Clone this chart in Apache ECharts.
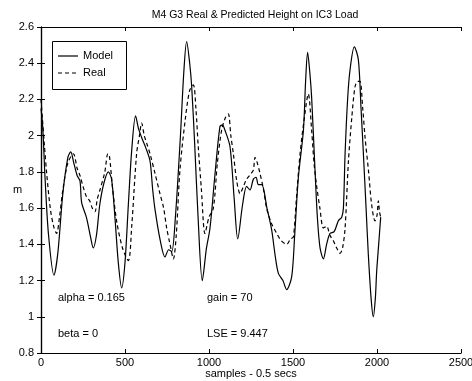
<!DOCTYPE html>
<html><head><meta charset="utf-8">
<script src="https://cdn.jsdelivr.net/npm/echarts@6/dist/echarts.min.js"></script>
<style>html,body{margin:0;padding:0;background:#fff}#c{width:472px;height:381px}</style>
</head><body><div id="c"></div>
<script>
const titleText = "M4 G3 Real & Predicted Height on IC3 Load";
const xAxisName = "samples - 0.5 secs";
const yAxisName = "m";
const xTicks = [0, 500, 1000, 1500, 2000, 2500];
const yTicks = [0.8, 1, 1.2, 1.4, 1.6, 1.8, 2, 2.2, 2.4, 2.6];
const modelX = [0,10,25,45,77,100,130,160,177,195,215,232,242,270,295,311,330,350,375,401,420,440,460,480,500,520,540,563,580,599,625,649,665,679,710,738,760,778,800,830,850,867,885,897,915,935,960,985,1006,1035,1065,1080,1095,1125,1150,1171,1200,1224,1244,1264,1280,1294,1314,1345,1373,1395,1413,1440,1462,1492,1510,1532,1562,1575,1587,1600,1611,1631,1645,1661,1681,1700,1720,1745,1770,1790,1800,1810,1825,1839,1865,1889,1905,1919,1935,1948,1965,1978,1990,1998,2010,2022];
const modelY = [2.15,2.05,1.75,1.45,1.23,1.35,1.68,1.88,1.91,1.85,1.78,1.75,1.63,1.55,1.44,1.38,1.45,1.62,1.74,1.80,1.76,1.55,1.30,1.16,1.30,1.62,1.92,2.11,2.04,1.99,1.93,1.86,1.70,1.59,1.42,1.33,1.37,1.36,1.55,2.00,2.35,2.52,2.40,2.27,1.95,1.55,1.20,1.38,1.49,1.78,2.05,2.06,2.03,1.94,1.65,1.43,1.62,1.72,1.70,1.76,1.77,1.73,1.73,1.60,1.48,1.33,1.24,1.20,1.15,1.22,1.45,1.77,2.03,2.30,2.46,2.35,2.21,1.81,1.55,1.38,1.32,1.40,1.46,1.47,1.53,1.55,1.60,1.90,2.20,2.36,2.49,2.42,2.15,1.90,1.60,1.35,1.10,1.00,1.10,1.25,1.40,1.55];
const realX = [0,8,20,34,55,75,93,110,130,160,193,215,232,250,272,290,305,321,335,351,380,398,407,425,450,485,520,540,569,586,599,615,632,649,679,708,730,748,768,788,805,827,860,885,907,922,936,955,976,1000,1026,1050,1075,1098,1115,1130,1145,1165,1185,1205,1224,1250,1264,1274,1284,1304,1325,1343,1370,1403,1430,1462,1485,1502,1520,1542,1565,1591,1611,1625,1641,1660,1681,1700,1720,1740,1760,1780,1795,1810,1830,1850,1869,1885,1899,1915,1929,1950,1968,1988,2000,2008,2015,2022];
const realY = [2.2,2.1,1.95,1.79,1.60,1.50,1.46,1.55,1.70,1.85,1.90,1.82,1.78,1.72,1.66,1.64,1.60,1.58,1.65,1.70,1.80,1.90,1.89,1.72,1.53,1.38,1.31,1.50,1.90,2.00,2.07,2.00,1.95,1.90,1.79,1.68,1.60,1.49,1.40,1.32,1.45,1.81,2.10,2.25,2.28,2.15,1.94,1.70,1.46,1.55,1.60,1.85,2.03,2.10,2.12,2.00,1.90,1.75,1.68,1.72,1.76,1.79,1.81,1.88,1.86,1.79,1.70,1.60,1.52,1.46,1.42,1.40,1.43,1.44,1.65,1.90,2.08,2.23,2.03,1.85,1.72,1.60,1.49,1.50,1.45,1.42,1.38,1.35,1.38,1.49,1.86,2.10,2.27,2.30,2.30,2.15,1.99,1.80,1.62,1.53,1.56,1.64,1.58,1.55];
const seriesNames = ["Model", "Real"];
const notes = ["alpha = 0.165", "gain = 70", "beta = 0", "LSE = 9.447"];

const FONT = "Liberation Sans";
const FS = 11;
const zip = (xs, ys) => xs.map((x, i) => [x, ys[i]]);
const chart = echarts.init(document.getElementById('c'));
const axisCommon = {
  axisLine: { show: true, lineStyle: { color: '#000', width: 1.2 } },
  axisTick: { show: true, inside: true, length: 4, lineStyle: { color: '#000' } },
  splitLine: { show: false }
};
const txt = (x, y, text, align) => ({ type: 'text', x, y,
  style: { text, fontFamily: FONT, fontSize: FS, fill: '#000', textVerticalAlign: 'middle', textAlign: align || 'left' } });
chart.setOption({
  animation: false,
  backgroundColor: '#fff',
  title: { text: titleText, left: 250, top: 5, textAlign: 'center',
    textStyle: { fontFamily: FONT, fontSize: 10.5, fontWeight: 'normal', color: '#000' } },
  grid: { left: 41, right: 11, top: 27, bottom: 28, show: false, containLabel: false, outerBoundsMode: 'none' },
  xAxis: [
    Object.assign({ type: 'value', min: 0, max: 2500, interval: 500, position: 'bottom',
      axisLabel: { fontFamily: FONT, fontSize: FS, color: '#000', margin: 4,
        formatter: v => xTicks.includes(v) ? String(v) : '' } }, axisCommon),
    Object.assign({ type: 'value', min: 0, max: 2500, interval: 500, position: 'top',
      axisLabel: { show: false } }, axisCommon)
  ],
  yAxis: [
    Object.assign({ type: 'value', min: 0.8, max: 2.6, interval: 0.2, position: 'left',
      axisLabel: { fontFamily: FONT, fontSize: FS, color: '#000', margin: 7,
        formatter: v => { const t = yTicks.find(k => Math.abs(k - v) < 1e-6); return t === undefined ? '' : String(t); } } }, axisCommon),
    Object.assign({ type: 'value', min: 0.8, max: 2.6, interval: 0.2, position: 'right',
      axisLabel: { show: false } }, axisCommon)
  ],
  series: [
    { name: seriesNames[0], type: 'line', data: zip(modelX, modelY), showSymbol: false,
      lineStyle: { color: '#000', width: 1.2 }, smooth: 0.3 },
    { name: seriesNames[1], type: 'line', data: zip(realX, realY), showSymbol: false,
      lineStyle: { color: '#000', width: 1.2, type: [4, 3] }, smooth: 0.3 }
  ],
  graphic: [
    { type: 'rect', shape: { x: 52.5, y: 41.5, width: 74, height: 48 },
      style: { fill: '#fff', stroke: '#000', lineWidth: 1 } },
    { type: 'line', shape: { x1: 58, y1: 56, x2: 78, y2: 56 }, style: { stroke: '#000', lineWidth: 1.2 } },
    { type: 'line', shape: { x1: 58, y1: 73, x2: 78, y2: 73 }, style: { stroke: '#000', lineWidth: 1.2, lineDash: [4, 3] } },
    txt(83, 56, seriesNames[0]),
    txt(83, 73, seriesNames[1]),
    txt(58, 298, notes[0]),
    txt(207, 298, notes[1]),
    txt(58, 334, notes[2]),
    txt(207, 334, notes[3]),
    txt(13, 190, yAxisName),
    txt(251, 374, xAxisName, 'center')
  ]
});
</script></body></html>
